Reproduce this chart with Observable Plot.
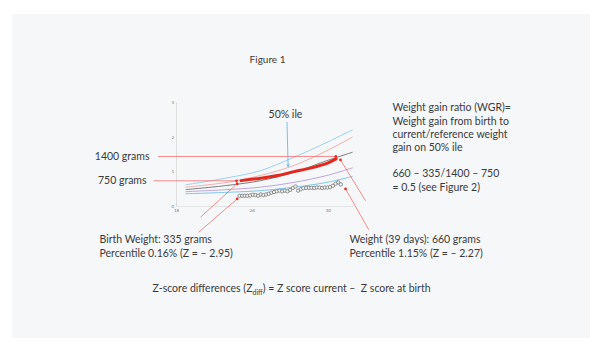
<!DOCTYPE html>
<html><head><meta charset="utf-8">
<script src="https://cdn.jsdelivr.net/npm/d3@7"></script>
<script src="https://cdn.jsdelivr.net/npm/@observablehq/plot@0.6"></script>
<style>
html,body{margin:0;padding:0;background:#fff;}
#wrap{position:relative;width:600px;height:355px;overflow:hidden;}
#panel{position:absolute;left:12px;top:14px;width:578px;height:324px;background:#f6f7f9;}
#chart{position:absolute;left:0;top:0;}
</style></head><body>
<div id="wrap"><div id="panel"></div><div id="chart"></div></div>
<script>
// ---- data ----
const xTicks = [18, 24, 30];
const yTicks = [0, 1, 2, 3];
const curveWeeks = [18.75, 22.0, 24.65, 27.3, 29.9, 31.9];
const p97 = [0.63, 0.83, 1.04, 1.43, 1.86, 2.22];
const p90 = [0.56, 0.70, 0.90, 1.19, 1.62, 2.01];
const p50 = [0.49, 0.61, 0.75, 0.99, 1.33, 1.57];
const p10 = [0.43, 0.49, 0.56, 0.70, 0.90, 1.12];
const p3  = [0.37, 0.41, 0.46, 0.56, 0.70, 0.87];
const refWeeks = [23.1, 24.65, 26.0, 27.3, 28.65, 29.95, 30.62];
const refKg    = [0.75, 0.82, 0.90, 1.01, 1.12, 1.26, 1.38];
const obsWeeks = [22.98,23.19,23.40,23.61,23.82,24.04,24.25,24.46,24.67,24.88,25.09,25.30,25.51,25.72,25.93,26.15,26.36,26.57,26.78,26.99,27.20,27.41,27.62,27.83,28.04,28.26,28.47,28.68,28.89,29.10,29.31,29.52,29.73,29.94,30.15,30.37,30.58,30.79,31.00];
const obsKg    = [0.31,0.31,0.31,0.31,0.32,0.34,0.33,0.31,0.35,0.33,0.35,0.37,0.40,0.42,0.44,0.46,0.44,0.46,0.44,0.48,0.54,0.58,0.46,0.50,0.53,0.54,0.54,0.54,0.54,0.55,0.55,0.54,0.55,0.55,0.56,0.60,0.66,0.70,0.64];
const title = "Figure 1";
const wgrText = "Weight gain ratio (WGR)=\nWeight gain from birth to\ncurrent/reference weight\ngain on 50% ile";
const calcText = "660 \u2013 335/1400 \u2013 750\n= 0.5 (see Figure 2)";
const ileText = "50% ile";
const upperLabel = "1400 grams";
const lowerLabel = "750 grams";
const birthText = "Birth Weight: 335 grams\nPercentile 0.16% (Z = \u2013 2.95)";
const currentText = "Weight (39 days): 660 grams\nPercentile 1.15% (Z = \u2013 2.27)";
const zText = "Z-score differences (Zdiff) = Z score current \u2013  Z score at birth";

// ---- tables ----
const seriesList = [
  {name: "p97", values: p97, color: "#8ecdee"},
  {name: "p90", values: p90, color: "#f2a5a5"},
  {name: "p50", values: p50, color: "#6e6e6e"},
  {name: "p10", values: p10, color: "#b79bd9"},
  {name: "p3",  values: p3,  color: "#6cc2ea"}
];
const toRows = (xs, ys) => xs.map((x, i) => ({x, y: ys[i]}));
const refRows = toRows(refWeeks, refKg);
const obsRows = toRows(obsWeeks, obsKg);

// annotation layout (data units)
const leaders = [
  {x1: 16.55, y1: 1.45, x2: 30.6, y2: 1.45},
  {x1: 16.18, y1: 0.745, x2: 22.75, y2: 0.745},
  {x1: 19.90, y1: -0.31, x2: 22.80, y2: 0.66},
  {x1: 19.76, y1: -0.745, x2: 22.80, y2: 0.22},
  {x1: 32.95, y1: 0.17, x2: 30.97, y2: 1.35},
  {x1: 33.21, y1: -0.675, x2: 31.37, y2: 0.51}
];
const textStyle = {fontFamily: "Lato, sans-serif", fontSize: 10.5, fill: "#3a3a3a"};
const texts = [
  {t: title, x: 25.2, y: 4.29, a: "middle", fs: 10},
  {t: wgrText, x: 35.08, y: 2.30, a: "start"},
  {t: calcText, x: 35.08, y: 0.773, a: "start"},
  {t: ileText, x: 26.62, y: 2.687, a: "middle"},
  {t: upperLabel, x: 15.86, y: 1.47, a: "end"},
  {t: lowerLabel, x: 15.63, y: 0.775, a: "end"},
  {t: birthText, x: 11.91, y: -1.14, a: "start"},
  {t: currentText, x: 31.68, y: -1.14, a: "start"},
  {t: zText, x: 16.10, y: -2.357, a: "start"}
];

const marks = [
  Plot.ruleX([18], {stroke: "#d6d6d6", strokeWidth: 0.8}),
  Plot.ruleY([0], {stroke: "#dedede", strokeWidth: 0.8}),
  Plot.axisX({ticks: xTicks, tickFormat: "d", tickSize: 0, tickPadding: 2.5, fontSize: 4.5, fill: "#777", label: null}),
  Plot.axisY({ticks: yTicks, tickFormat: "d", tickSize: 0, tickPadding: 2.5, fontSize: 4.5, fill: "#777", label: null})
];
for (const s of seriesList) {
  marks.push(Plot.line(toRows(curveWeeks, s.values), {x: "x", y: "y", stroke: s.color, strokeWidth: 0.9, curve: "catmull-rom"}));
}
marks.push(
  Plot.link(leaders, {x1: "x1", y1: "y1", x2: "x2", y2: "y2", stroke: "#f07070", strokeWidth: 0.8}),
  Plot.dot(leaders, {x: "x2", y: "y2", r: 1.4, fill: "#e8302a"}),
  Plot.line(refRows, {x: "x", y: "y", stroke: "#e42820", strokeWidth: 3, curve: "catmull-rom"}),
  Plot.dot(obsRows, {x: "x", y: "y", r: 1.7, stroke: "#6b6b6b", fill: "#f3f3f3", strokeWidth: 0.7}),
  Plot.arrow([{x1: 26.74, y1: 2.44, x2: 26.83, y2: 1.16}], {x1: "x1", y1: "y1", x2: "x2", y2: "y2", stroke: "#5aaee3", strokeWidth: 0.8, headLength: 4}),
  ...texts.map(d => Plot.text([d], {x: "x", y: "y", text: "t", textAnchor: d.a, lineAnchor: "middle", lineHeight: 1.27, ...textStyle, fontSize: d.fs || textStyle.fontSize}))
);

const plot = Plot.plot({
  width: 600, height: 355,
  marginLeft: 176, marginRight: 247, marginTop: 102.5, marginBottom: 149,
  x: {domain: [18, 32]},
  y: {domain: [0, 3]},
  style: {background: "transparent", overflow: "visible", fontFamily: "Lato, sans-serif"},
  marks
});

// subscript "diff"
d3.select(plot).selectAll("text").filter(function() { return this.textContent.startsWith("Z-score"); })
  .each(function() {
    const el = d3.select(this);
    el.text(null);
    el.append("tspan").text("Z-score differences (Z");
    el.append("tspan").attr("font-size", 7).attr("dy", 2.5).text("diff");
    el.append("tspan").attr("dy", -2.5).text(") = Z score current \u2013  Z score at birth");
  });

document.getElementById("chart").appendChild(plot);
</script>
</body></html>
